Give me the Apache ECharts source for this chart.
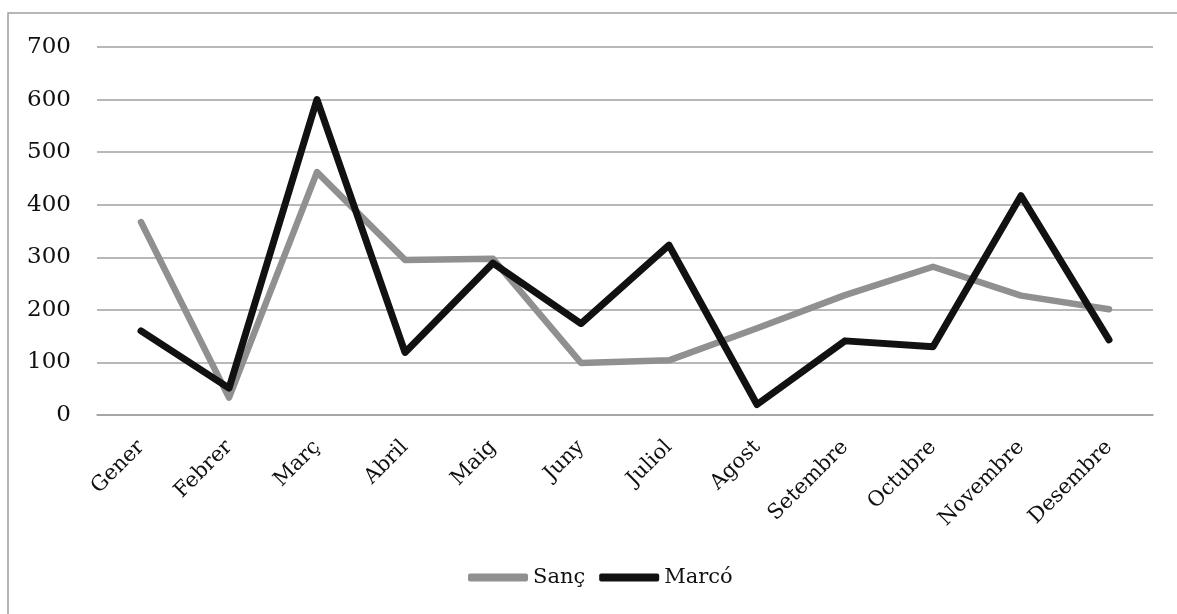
<!DOCTYPE html>
<html>
<head>
<meta charset="utf-8">
<script src="https://cdn.jsdelivr.net/npm/echarts@6/dist/echarts.min.js"></script>
<style>
html,body{margin:0;padding:0;background:#fff;}
#c{width:1177px;height:614px;}
</style>
</head>
<body>
<div id="c"></div>
<script>
const categories = ['Gener','Febrer','Març','Abril','Maig','Juny','Juliol','Agost','Setembre','Octubre','Novembre','Desembre'];
const sancValues = [367, 33, 462, 295, 297, 99, 104, 165, 228, 282, 227, 201];
const marcoValues = [160, 51, 600, 119, 289, 174, 323, 20, 141, 130, 417, 143];
const seriesNames = ['Sanç', 'Marcó'];

const font = 'DejaVu Serif';
const chart = echarts.init(document.getElementById('c'));
chart.setOption({
  animation: false,
  backgroundColor: '#fff',
  graphic: [{
    type: 'rect',
    shape: { x: 8, y: 13, width: 1400, height: 800 },
    style: { fill: 'none', stroke: '#a0a0a0', lineWidth: 1.5 },
    silent: true
  }],
  grid: { left: 97, right: 24, top: 47, bottom: 199, containLabel: false },
  legend: {
    data: [
      { name: seriesNames[0], icon: 'roundRect', itemStyle: { color: '#909090' } },
      { name: seriesNames[1], icon: 'roundRect', itemStyle: { color: '#111111' } }
    ],
    left: 463,
    top: 562,
    itemWidth: 60,
    itemHeight: 8,
    itemGap: 14,
    textStyle: { fontFamily: font, fontSize: 21, color: '#111' }
  },
  xAxis: {
    type: 'category',
    data: categories,
    boundaryGap: true,
    axisLine: { show: true, lineStyle: { color: '#a0a0a0', width: 1.5 } },
    axisTick: { show: false },
    axisLabel: { rotate: 45, margin: 29, fontFamily: font, fontSize: 21, color: '#111', interval: 0 }
  },
  yAxis: {
    type: 'value',
    min: 0, max: 700, interval: 100,
    axisLine: { show: false },
    axisTick: { show: false },
    splitLine: { lineStyle: { color: '#a0a0a0', width: 1.5 } },
    axisLabel: { margin: 26, padding: [6, 0, 0, 0], fontFamily: font, fontSize: 23, color: '#111' }
  },
  series: [
    {
      name: seriesNames[0], type: 'line', data: sancValues, symbol: 'none',
      itemStyle: { color: '#909090' },
      lineStyle: { color: '#909090', width: 6.5, cap: 'round', join: 'round' }
    },
    {
      name: seriesNames[1], type: 'line', data: marcoValues, symbol: 'none',
      itemStyle: { color: '#111111' },
      lineStyle: { color: '#111111', width: 7, cap: 'round', join: 'round' }
    }
  ]
});
</script>
</body>
</html>
